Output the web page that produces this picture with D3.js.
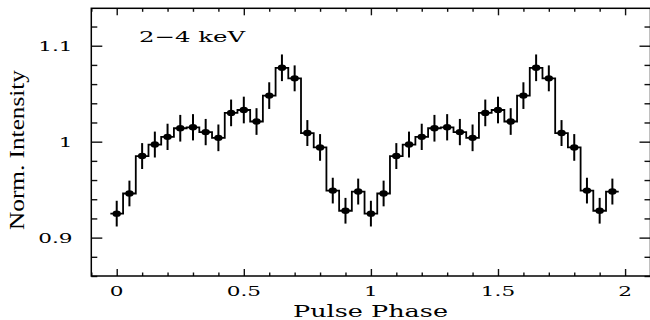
<!DOCTYPE html>
<html>
<head>
<meta charset="utf-8">
<script src="https://cdn.jsdelivr.net/npm/d3@7"></script>
<style>
  body { margin: 0; background: #fff; }
  svg { display: block; }
</style>
</head>
<body>
<svg width="650" height="320"></svg>
<script>
// pulse profile, 20 bins shown twice (phase 0 - 2)
const phase = [0, 0.05, 0.1, 0.15, 0.2, 0.25, 0.3, 0.35, 0.4, 0.45,
               0.5, 0.55, 0.6, 0.65, 0.7, 0.75, 0.8, 0.85, 0.9, 0.95,
               1, 1.05, 1.1, 1.15, 1.2, 1.25, 1.3, 1.35, 1.4, 1.45,
               1.5, 1.55, 1.6, 1.65, 1.7, 1.75, 1.8, 1.85, 1.9, 1.95];
const intensity = [0.925, 0.946, 0.985, 0.997, 1.005, 1.014, 1.015, 1.010, 1.004, 1.030,
                   1.033, 1.021, 1.048, 1.077, 1.066, 1.009, 0.994, 0.949, 0.928, 0.948,
                   0.925, 0.946, 0.985, 0.997, 1.005, 1.014, 1.015, 1.010, 1.004, 1.030,
                   1.033, 1.021, 1.048, 1.077, 1.066, 1.009, 0.994, 0.949, 0.928, 0.948];
const errors = [0.0134, 0.0134, 0.0135, 0.0135, 0.0137, 0.0139, 0.0137, 0.0137, 0.0139, 0.0139,
                0.0139, 0.0139, 0.0139, 0.0139, 0.0135, 0.0135, 0.0139, 0.0134, 0.0134, 0.0135,
                0.0134, 0.0134, 0.0135, 0.0135, 0.0137, 0.0139, 0.0137, 0.0137, 0.0139, 0.0139,
                0.0139, 0.0139, 0.0139, 0.0139, 0.0135, 0.0135, 0.0139, 0.0134, 0.0134, 0.0135];
const xTickValues = [0, 0.5, 1, 1.5, 2];
const xTickLabels = ["0", "0.5", "1", "1.5", "2"];
const yTickValues = [0.9, 1, 1.1];
const yTickLabels = ["0.9", "1", "1.1"];
const bandLabel = "2\u22124 keV";
const xTitle = "Pulse Phase";
const yTitle = "Norm. Intensity";

const binHalf = 0.025;

let svg = d3.select("svg");

let x = d3.scaleLinear().domain([-0.1, 2.1]).range([91.3, 650.5]);
let y = d3.scaleLinear().domain([0.86, 1.139]).range([276, 8.3]);

let frameLeft = x.range()[0], frameRight = x.range()[1];
let frameTop = y.range()[1], frameBottom = y.range()[0];

let fontFam = "'DejaVu Serif', serif";

// ticks, all pointing inwards
function tickAxis(axisFn, scale, values, size, transform) {
  let g = svg.append("g")
    .attr("transform", transform)
    .call(axisFn(scale).tickValues(values).tickSize(size).tickFormat(""));
  g.select(".domain").remove();
  g.selectAll("line").attr("stroke", "#111").attr("stroke-width", 1.4);
  return g;
}

let xMinor = x.ticks(22).filter(v => !xTickValues.some(m => Math.abs(m - v) < 1e-9));
let yMinor = y.ticks(14).filter(v => !yTickValues.some(m => Math.abs(m - v) < 1e-9));

tickAxis(d3.axisBottom, x, xTickValues, -7, `translate(0,${frameBottom})`);
tickAxis(d3.axisBottom, x, xMinor, -3.5, `translate(0,${frameBottom})`);
tickAxis(d3.axisTop, x, xTickValues, -7, `translate(0,${frameTop})`);
tickAxis(d3.axisTop, x, xMinor, -3.5, `translate(0,${frameTop})`);
tickAxis(d3.axisLeft, y, yTickValues, -11, `translate(${frameLeft},0)`);
tickAxis(d3.axisLeft, y, yMinor, -6, `translate(${frameLeft},0)`);
tickAxis(d3.axisRight, y, yTickValues, -11, `translate(${frameRight},0)`);
tickAxis(d3.axisRight, y, yMinor, -6, `translate(${frameRight},0)`);

// frame
svg.append("rect")
  .attr("x", frameLeft)
  .attr("y", frameTop)
  .attr("width", frameRight - frameLeft)
  .attr("height", frameBottom - frameTop)
  .attr("fill", "none")
  .attr("stroke", "#000")
  .attr("stroke-width", 1.5);

// tick labels (wide, stretched serif to look like the plot font)
svg.selectAll(".xlab")
  .data(xTickValues)
  .enter()
  .append("text")
  .attr("class", "xlab")
  .attr("transform", d => `translate(${x(d)},296) scale(1.6,1)`)
  .attr("text-anchor", "middle")
  .style("font-family", fontFam)
  .style("font-size", "13.5px")
  .text((d, i) => xTickLabels[i]);

svg.selectAll(".ylab")
  .data(yTickValues)
  .enter()
  .append("text")
  .attr("class", "ylab")
  .attr("transform", d => `translate(72.5,${y(d) + 5}) scale(1.6,1)`)
  .attr("text-anchor", "end")
  .style("font-family", fontFam)
  .style("font-size", "13.5px")
  .text((d, i) => yTickLabels[i]);

// axis titles
svg.append("text")
  .attr("x", 293)
  .attr("y", 317)
  .attr("textLength", 155)
  .attr("lengthAdjust", "spacingAndGlyphs")
  .style("font-family", fontFam)
  .style("font-size", "17px")
  .text(xTitle);

svg.append("text")
  .attr("transform", "translate(24,230) rotate(-90)")
  .attr("textLength", 160)
  .attr("lengthAdjust", "spacingAndGlyphs")
  .style("font-family", "'Liberation Serif', serif")
  .style("font-size", "22px")
  .text(yTitle);

svg.append("text")
  .attr("x", 139)
  .attr("y", 41.7)
  .attr("textLength", 106)
  .attr("lengthAdjust", "spacingAndGlyphs")
  .style("font-family", fontFam)
  .style("font-size", "15px")
  .text(bandLabel);

// step histogram
let edges = phase.map((p, i) => [p - binHalf, intensity[i]]);
edges.push([phase[phase.length - 1] + binHalf, intensity[intensity.length - 1]]);

let line = d3.line()
  .x(d => x(d[0]))
  .y(d => y(d[1]))
  .curve(d3.curveStepAfter);

svg.append("path")
  .attr("d", line(edges))
  .attr("fill", "none")
  .attr("stroke", "#000")
  .attr("stroke-width", 1.8);

// error bars
svg.selectAll(".err")
  .data(phase)
  .enter()
  .append("line")
  .attr("class", "err")
  .attr("x1", d => x(d))
  .attr("x2", d => x(d))
  .attr("y1", (d, i) => y(intensity[i] - errors[i]))
  .attr("y2", (d, i) => y(intensity[i] + errors[i]))
  .attr("stroke", "#000")
  .attr("stroke-width", 2);

// points
svg.selectAll(".pt")
  .data(phase)
  .enter()
  .append("ellipse")
  .attr("class", "pt")
  .attr("cx", d => x(d))
  .attr("cy", (d, i) => y(intensity[i]))
  .attr("rx", 4.2)
  .attr("ry", 3.2)
  .attr("fill", "#000");
</script>
</body>
</html>
